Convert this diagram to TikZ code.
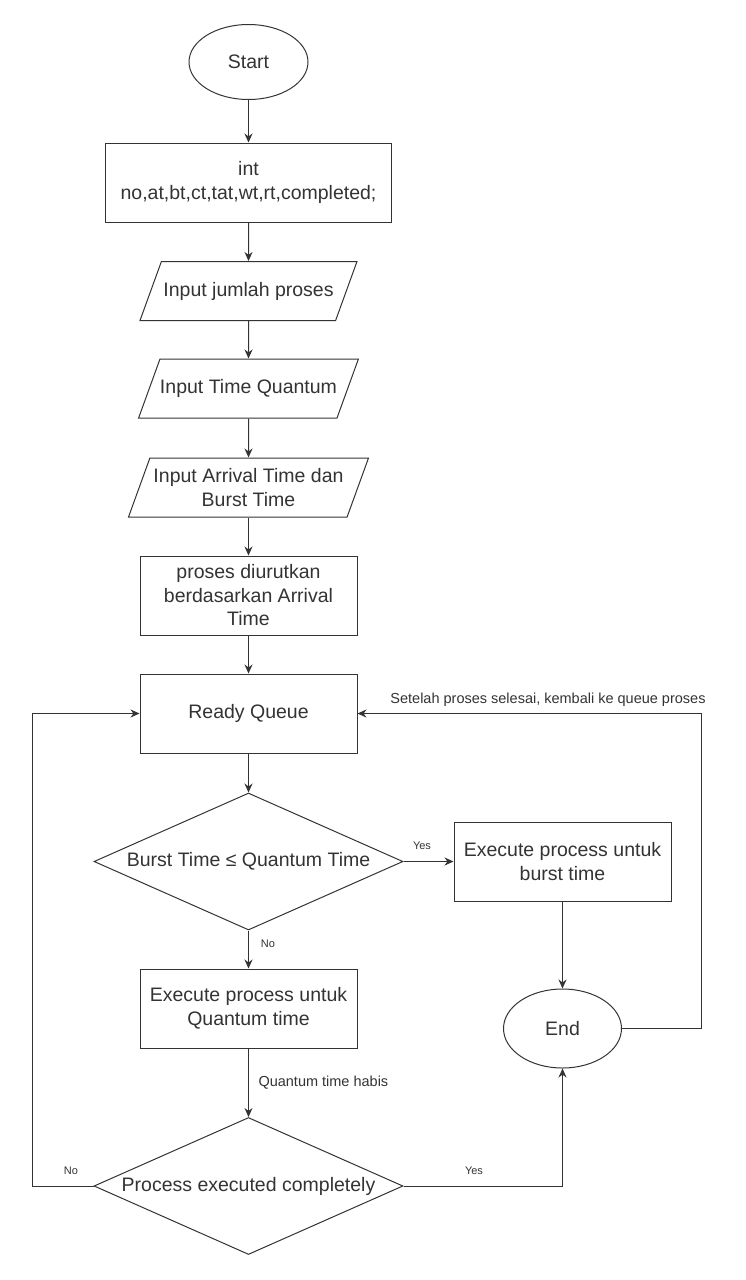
\documentclass[tikz,border=0pt]{standalone}
\usepackage{fontspec}
\setmainfont{Liberation Sans}
\usetikzlibrary{arrows.meta, shapes.geometric}
\tikzset{
term/.style = {ellipse, draw, minimum width=#1, minimum height=75pt,
               inner sep=0pt},
term/.default = 119pt % width of the ellipse
}
\tikzset{
box/.style = {rectangle, draw, minimum width=#1, minimum height=79pt,
              align=center, inner sep=2pt},
box/.default = 217pt
}
\tikzset{
io/.style = {trapezium, trapezium left angle=70, trapezium right angle=110,
             trapezium stretches body=true, draw, minimum width=#1,
             minimum height=59pt, align=center, inner xsep=0pt,
             inner ysep=20.3pt},
io/.default = 217pt
}
\tikzset{
cek/.style = {diamond, draw, aspect=2.25, minimum width=309pt,
              minimum height=137pt, inner sep=0pt}
}
\tikzset{
lbl/.style = {font=\fontsize{14.5}{17}\selectfont, inner sep=0pt},
yn/.style = {font=\fontsize{11}{13}\selectfont, inner sep=0pt}
}

\begin{document}
\begin{tikzpicture}[x=1pt, y=-1pt, line width=1pt, color=black!80,
    font=\fontsize{19.5}{23.5}\selectfont,
    >={Stealth[length=9pt, width=8pt]}]
\useasboundingbox (0,0) rectangle (745,1280);

    \node[term] (start) at (248.5,62) {Start};
    \node[box=286pt] (decl) at (248.5,182.5) {int\\no,at,bt,ct,tat,wt,rt,completed;};
    \node[io] (jml) at (248.5,291) {Input jumlah proses};
    \node[io] (tq) at (248.5,388.5) {Input Time Quantum};
    \node[io=240pt, inner ysep=10.5pt] (arr) at (248.5,487.5) {Input Arrival Time dan\\Burst Time};
    \node[box] (urut) at (248.5,595.5) {proses diurutkan\\berdasarkan Arrival\\Time};
    \node[box] (ready) at (248.5,713.5) {Ready Queue};
    \node[cek] (cekbt) at (248.5,861.5) {Burst Time ≤ Quantum Time};
    \node[box] (exbt) at (562.5,861.5) {Execute process untuk\\burst time};
    \node[box] (exqt) at (248.5,1008.5) {Execute process untuk\\Quantum time};
    \node[cek] (cekdone) at (248.5,1186) {Process executed completely};
    \node[term=118pt, minimum height=79pt] (end) at (562.5,1028.5) {End};

\coordinate (kiri) at (32,1186);
\coordinate (kanan) at (701,1028.5);

\node[yn] (ya1) at (422,846) {Yes};
\node[yn] (tidak1) at (268,944) {No};
\node[lbl, anchor=west] (habis) at (258,1083) {Quantum time habis};
\node[yn] (ya2) at (474,1171) {Yes};
\node[yn] (tidak2) at (71,1171) {No};
\node[lbl] (balik) at (548,700) {Setelah proses selesai, kembali ke queue proses};

\draw[->] (start) -- (decl);
\draw[->] (decl) -- (jml);
\draw[->] (jml) -- (tq);
\draw[->] (tq) -- (arr);
\draw[->] (arr) -- (urut);
\draw[->] (urut) -- (ready);
\draw[->] (ready) -- (cekbt);
\draw[->] (cekbt) -- (exbt);
\draw[->] (cekbt) -- (exqt);
\draw[->] (exbt) -- (end);
\draw[->] (exqt) -- (cekdone);
\draw[->] (cekdone.east) -| (end.south);
\draw[->] (cekdone.west) -- (kiri) |- (ready.west);
\draw[->] (end.east) -- (kanan) |- (ready.east);
\end{tikzpicture}
\end{document}
